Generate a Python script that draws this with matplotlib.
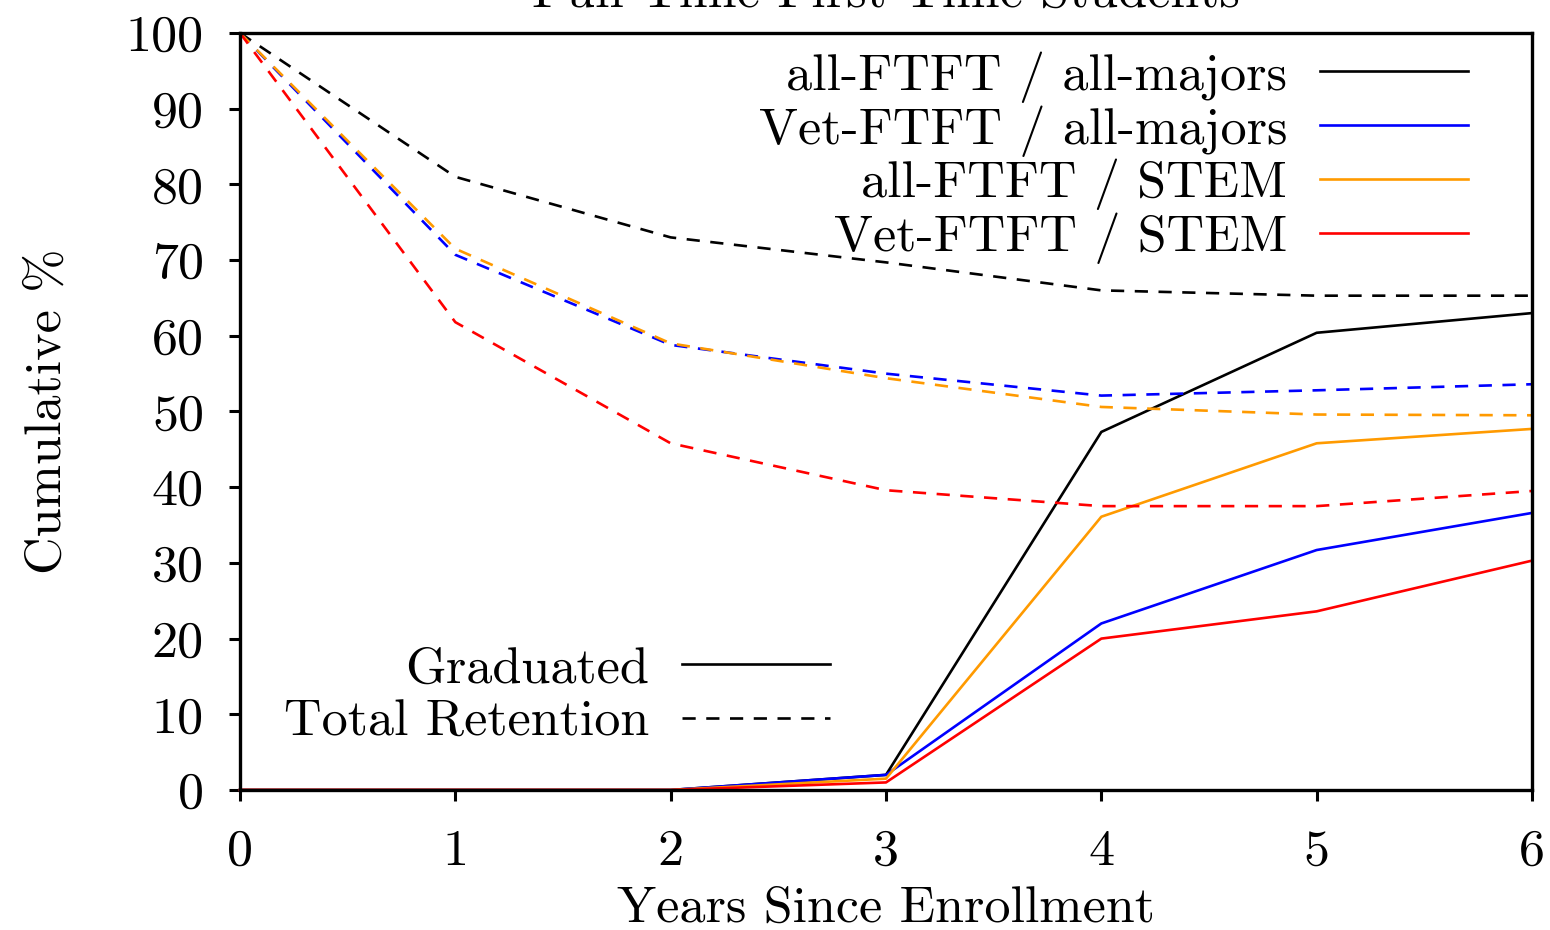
import matplotlib
matplotlib.use("Agg")
import matplotlib.pyplot as plt
from matplotlib.lines import Line2D

plt.rcParams['font.family'] = ['cmr10', 'DejaVu Serif']
plt.rcParams['axes.unicode_minus'] = False
plt.rcParams['mathtext.fontset'] = 'cm'

years = [0, 1, 2, 3, 4, 5, 6]

# graduated (solid)
grad_all_all = [0, 0, 0, 2.0, 47.3, 60.4, 63.0]
grad_vet_all = [0, 0, 0, 2.0, 22.0, 31.7, 36.6]
grad_all_stem = [0, 0, 0, 1.5, 36.1, 45.8, 47.7]
grad_vet_stem = [0, 0, 0, 1.0, 20.0, 23.6, 30.3]

# total retention (dashed)
ret_all_all = [100, 81.0, 73.0, 69.7, 66.0, 65.3, 65.3]
ret_vet_all = [100, 70.7, 58.8, 55.0, 52.1, 52.8, 53.6]
ret_all_stem = [100, 71.5, 59.0, 54.4, 50.6, 49.6, 49.5]
ret_vet_stem = [100, 61.8, 45.8, 39.6, 37.5, 37.5, 39.5]

series_names = ['all-FTFT / all-majors', 'Vet-FTFT / all-majors',
                'all-FTFT / STEM', 'Vet-FTFT / STEM']
colors = ['#000000', '#0000ff', '#ff9a00', '#ff0000']
grad = [grad_all_all, grad_vet_all, grad_all_stem, grad_vet_stem]
ret = [ret_all_all, ret_vet_all, ret_all_stem, ret_vet_stem]

fig = plt.figure(figsize=(15.5, 9.3), dpi=100)
ax = fig.add_axes([240/1550, 1 - 790/930, 1292/1550, 757/930])

lw = 1.9
dash = (0, (5, 4))
handles = []
for name, c, g, r in zip(series_names, colors, grad, ret):
    ax.plot(years, r, color=c, lw=lw, linestyle=dash, clip_on=False)
    h, = ax.plot(years, g, color=c, lw=lw, clip_on=False, label=name)
    handles.append(h)

ax.set_xlim(0, 6)
ax.set_ylim(0, 100)
ax.set_xticks(years)
ax.set_yticks(range(0, 101, 10))

fs = 37.5
ax.tick_params(direction='out', length=8, width=2.2, labelsize=fs)
ax.tick_params(axis='x', pad=20)
ax.tick_params(axis='y', pad=18)
for sp in ax.spines.values():
    sp.set_linewidth(2.4)

ax.set_xlabel('Years Since Enrollment', fontsize=fs, labelpad=8)
ax.set_ylabel('Cumulative %', fontsize=fs, labelpad=40)

# title sits mostly above the top edge, as in the original
fig.text(0.5716, 1 - 7/930, 'Full-Time First-Time Students', fontsize=fs,
         ha='center', va='baseline')

leg1 = ax.legend(handles=handles, loc='upper right', bbox_to_anchor=(0.9505, 0.976),
                 markerfirst=False, frameon=False, fontsize=fs, handlelength=2.85,
                 handletextpad=0.62, labelspacing=0.045, borderpad=0, borderaxespad=0)
ax.add_artist(leg1)

style_handles = [Line2D([], [], color='black', lw=lw),
                 Line2D([], [], color='black', lw=lw, linestyle=dash)]
ax.legend(handles=style_handles, labels=['Graduated', 'Total Retention'],
          loc='upper right', bbox_to_anchor=(0.4567, 0.19),
          markerfirst=False, frameon=False, fontsize=fs, handlelength=2.85,
          handletextpad=0.62, labelspacing=0.13, borderpad=0, borderaxespad=0)

fig.savefig('out.png', dpi=100)
